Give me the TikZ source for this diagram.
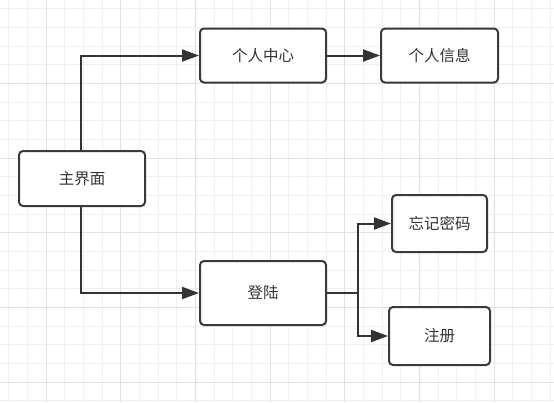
\documentclass[tikz,border=0pt]{standalone}
\usepackage{fontspec}
\newfontfamily\cjk{Noto Sans CJK SC}
\usetikzlibrary{arrows.meta}
\definecolor{gridminor}{HTML}{F0F0F0}
\definecolor{gridmajor}{HTML}{E2E2E2}
\definecolor{ink}{HTML}{333333}
\definecolor{boxline}{HTML}{3A3A3A}
\tikzset{
  box/.style={draw=boxline, line width=2pt, rounded corners=4pt, fill=white,
    text=ink, font=\cjk\fontsize{15.5}{18}\selectfont, inner sep=0pt, anchor=center},
  conn/.style={draw=ink, line width=2pt},
  arr/.style={conn, -{Triangle[length=17pt,width=12pt]}},
}
\begin{document}
\begin{tikzpicture}[x=1pt,y=-1pt]
\useasboundingbox (0,0) rectangle (554,402);
\fill[white] (0,0) rectangle (554,402);
% grid
\foreach \i in {0,...,29} {
  \pgfmathsetmacro\gx{8.67+18.67*\i}
  \draw[gridminor, line width=1pt] (\gx,0) -- (\gx,402);
}
\foreach \i in {0,...,21} {
  \pgfmathsetmacro\gy{8.67+18.67*\i}
  \draw[gridminor, line width=1pt] (0,\gy) -- (554,\gy);
}
\foreach \i in {0,...,6} {
  \pgfmathsetmacro\gx{46.0+74.67*\i}
  \draw[gridmajor, line width=1pt] (\gx,0) -- (\gx,402);
}
\foreach \i in {0,...,4} {
  \pgfmathsetmacro\gy{83.33+74.67*\i}
  \draw[gridmajor, line width=1pt] (0,\gy) -- (554,\gy);
}
% nodes
\node[box, minimum width=126pt, minimum height=55pt] (main) at (82,178.5) {主界面};
\node[box, minimum width=126pt, minimum height=54pt] (pc) at (263,55.5) {个人中心};
\node[box, minimum width=117pt, minimum height=54pt] (pi) at (439.5,55.5) {个人信息};
\node[box, minimum width=126pt, minimum height=64pt] (login) at (263,293) {登陆};
\node[box, minimum width=95pt, minimum height=57pt] (forgot) at (439.5,223.5) {忘记密码};
\node[box, minimum width=101pt, minimum height=58pt] (reg) at (439.5,336) {注册};
\coordinate (br) at (358,293);
% connectors
\draw[arr] ([xshift=-1pt]main.north) |- (pc.west);
\draw[arr] ([xshift=-1pt]main.south) |- (login.west);
\draw[arr] (pc.east) -- (pi.west);
\draw[conn] (login.east) -- (br);
\draw[arr] (br) |- (forgot.west);
\draw[arr] (br) |- (reg.west);
\end{tikzpicture}
\end{document}
